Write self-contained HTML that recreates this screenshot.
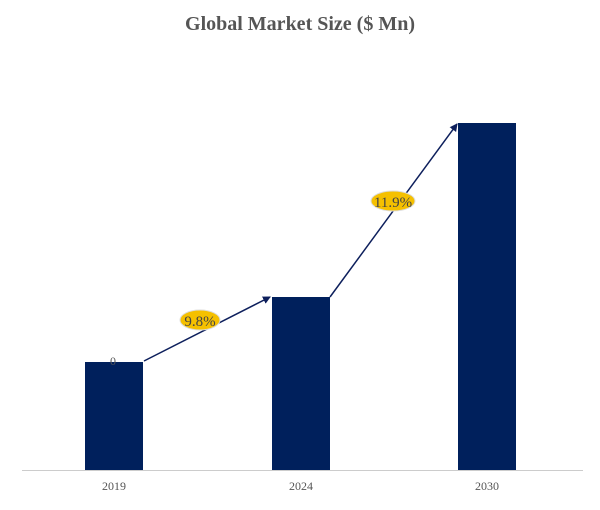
<!DOCTYPE html>
<html><head><style>body{margin:0;background:#fff}svg{display:block}</style></head><body>
<svg width="600" height="510" xmlns="http://www.w3.org/2000/svg" font-family="Liberation Serif, serif">
<defs><marker id="a" markerWidth="8" markerHeight="8" refX="7" refY="4" orient="auto" markerUnits="userSpaceOnUse"><path d="M0,0 L8,4 L0,8 z" fill="#0d1f5c"/></marker></defs>
<text x="300" y="30" text-anchor="middle" font-size="20" font-weight="bold" fill="#555">Global Market Size ($ Mn)</text>
<line x1="22" y1="470.5" x2="583" y2="470.5" stroke="#ccc" stroke-width="1"/>
<rect x="85" y="362" width="58" height="108" fill="#00205c"/>
<rect x="272" y="297" width="58" height="173" fill="#00205c"/>
<rect x="458" y="123" width="58" height="347" fill="#00205c"/>
<text x="113" y="365" text-anchor="middle" font-size="12" fill="#555">0</text>
<line x1="144" y1="361" x2="270" y2="297" stroke="#0d1f5c" stroke-width="1.5" marker-end="url(#a)"/>
<line x1="330" y1="297" x2="457" y2="124" stroke="#0d1f5c" stroke-width="1.5" marker-end="url(#a)"/>
<ellipse cx="200" cy="320" rx="20" ry="10" fill="#f5c000" stroke="#ddd"/>
<text x="200" y="326" text-anchor="middle" font-size="15" fill="#444">9.8%</text>
<ellipse cx="393" cy="201" rx="22" ry="10" fill="#f5c000" stroke="#ddd"/>
<text x="393" y="207" text-anchor="middle" font-size="15" fill="#444">11.9%</text>
<g font-size="12" fill="#555" text-anchor="middle"><text x="114" y="490">2019</text><text x="301" y="490">2024</text><text x="487" y="490">2030</text></g>
</svg>
</body></html>
